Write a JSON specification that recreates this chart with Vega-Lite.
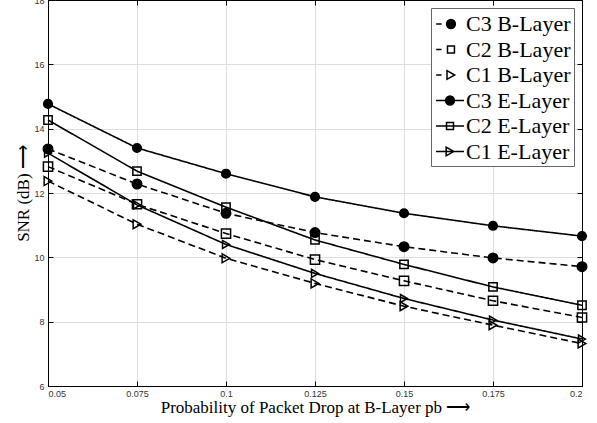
{
  "$schema": "https://vega.github.io/schema/vega-lite/v6.json",
  "autosize": {"type": "none"},
  "padding": {"left": 48, "top": 0, "right": 15, "bottom": 37},
  "width": 534,
  "height": 386,
  "background": "white",
  "config": {
    "view": {"stroke": "black", "strokeWidth": 1},
    "axis": {
      "labelFont": "Liberation Sans",
      "labelFontSize": 9,
      "labelColor": "#333",
      "titleFont": "Liberation Serif",
      "titleFontSize": 17,
      "titleFontWeight": "normal",
      "titleColor": "black",
      "domainColor": "black",
      "tickColor": "black",
      "gridColor": "#dedede",
      "gridWidth": 1
    }
  },
  "data": {
    "values": [
      {"p": 0.05, "snr": 13.37, "series": "C3 B-Layer"},
      {"p": 0.075, "snr": 12.28, "series": "C3 B-Layer"},
      {"p": 0.1, "snr": 11.37, "series": "C3 B-Layer"},
      {"p": 0.125, "snr": 10.77, "series": "C3 B-Layer"},
      {"p": 0.15, "snr": 10.33, "series": "C3 B-Layer"},
      {"p": 0.175, "snr": 9.98, "series": "C3 B-Layer"},
      {"p": 0.2, "snr": 9.71, "series": "C3 B-Layer"},
      {"p": 0.05, "snr": 12.82, "series": "C2 B-Layer"},
      {"p": 0.075, "snr": 11.65, "series": "C2 B-Layer"},
      {"p": 0.1, "snr": 10.74, "series": "C2 B-Layer"},
      {"p": 0.125, "snr": 9.93, "series": "C2 B-Layer"},
      {"p": 0.15, "snr": 9.27, "series": "C2 B-Layer"},
      {"p": 0.175, "snr": 8.65, "series": "C2 B-Layer"},
      {"p": 0.2, "snr": 8.13, "series": "C2 B-Layer"},
      {"p": 0.05, "snr": 12.37, "series": "C1 B-Layer"},
      {"p": 0.075, "snr": 11.03, "series": "C1 B-Layer"},
      {"p": 0.1, "snr": 9.97, "series": "C1 B-Layer"},
      {"p": 0.125, "snr": 9.19, "series": "C1 B-Layer"},
      {"p": 0.15, "snr": 8.48, "series": "C1 B-Layer"},
      {"p": 0.175, "snr": 7.89, "series": "C1 B-Layer"},
      {"p": 0.2, "snr": 7.32, "series": "C1 B-Layer"},
      {"p": 0.05, "snr": 14.77, "series": "C3 E-Layer"},
      {"p": 0.075, "snr": 13.4, "series": "C3 E-Layer"},
      {"p": 0.1, "snr": 12.6, "series": "C3 E-Layer"},
      {"p": 0.125, "snr": 11.88, "series": "C3 E-Layer"},
      {"p": 0.15, "snr": 11.37, "series": "C3 E-Layer"},
      {"p": 0.175, "snr": 10.98, "series": "C3 E-Layer"},
      {"p": 0.2, "snr": 10.66, "series": "C3 E-Layer"},
      {"p": 0.05, "snr": 14.27, "series": "C2 E-Layer"},
      {"p": 0.075, "snr": 12.68, "series": "C2 E-Layer"},
      {"p": 0.1, "snr": 11.56, "series": "C2 E-Layer"},
      {"p": 0.125, "snr": 10.54, "series": "C2 E-Layer"},
      {"p": 0.15, "snr": 9.78, "series": "C2 E-Layer"},
      {"p": 0.175, "snr": 9.08, "series": "C2 E-Layer"},
      {"p": 0.2, "snr": 8.51, "series": "C2 E-Layer"},
      {"p": 0.05, "snr": 13.24, "series": "C1 E-Layer"},
      {"p": 0.075, "snr": 11.63, "series": "C1 E-Layer"},
      {"p": 0.1, "snr": 10.4, "series": "C1 E-Layer"},
      {"p": 0.125, "snr": 9.5, "series": "C1 E-Layer"},
      {"p": 0.15, "snr": 8.72, "series": "C1 E-Layer"},
      {"p": 0.175, "snr": 8.05, "series": "C1 E-Layer"},
      {"p": 0.2, "snr": 7.46, "series": "C1 E-Layer"}
    ]
  },
  "layer": [
    {
      "mark": {"type": "line", "color": "black", "strokeWidth": 1.6},
      "encoding": {
        "x": {
          "field": "p", "type": "quantitative",
          "scale": {"domain": [0.05, 0.2], "nice": false, "zero": false},
          "axis": {
            "orient": "bottom",
            "values": [0.05, 0.075, 0.1, 0.125, 0.15, 0.175, 0.2],
            "format": ".3~f",
            "grid": true,
            "tickSize": -5,
            "labelPadding": 8,
            "title": "Probability of Packet Drop at B-Layer pb  ⟶",
            "titlePadding": 1
          }
        },
        "y": {
          "field": "snr", "type": "quantitative",
          "scale": {"domain": [6, 18], "nice": false, "zero": false},
          "axis": {
            "orient": "left",
            "values": [6, 8, 10, 12, 14, 16, 18],
            "grid": true,
            "tickSize": -5,
            "labelPadding": 9,
            "title": "SNR (dB)  ⟶",
            "titlePadding": 1
          }
        },
        "detail": {"field": "series"},
        "strokeDash": {
          "field": "series", "type": "nominal",
          "scale": {
            "domain": ["C3 B-Layer", "C2 B-Layer", "C1 B-Layer", "C3 E-Layer", "C2 E-Layer", "C1 E-Layer"],
            "range": [[7, 4], [7, 4], [7, 4], [1, 0], [1, 0], [1, 0]]
          },
          "legend": null
        }
      }
    },
    {
      "mark": {"type": "point", "color": "black", "filled": false, "strokeWidth": 1.5, "opacity": 1},
      "encoding": {
        "x": {
          "field": "p", "type": "quantitative",
          "axis": {"orient": "top", "values": [0.05, 0.075, 0.1, 0.125, 0.15, 0.175, 0.2], "labels": false, "grid": false, "tickSize": -5, "title": null}
        },
        "y": {
          "field": "snr", "type": "quantitative",
          "axis": {"orient": "right", "values": [6, 8, 10, 12, 14, 16, 18], "labels": false, "grid": false, "tickSize": -5, "title": null}
        },
        "shape": {
          "field": "series", "type": "nominal",
          "scale": {
            "domain": ["C3 B-Layer", "C2 B-Layer", "C1 B-Layer", "C3 E-Layer", "C2 E-Layer", "C1 E-Layer"],
            "range": ["circle", "square", "triangle-right", "circle", "square", "triangle-right"]
          },
          "legend": null
        },
        "fill": {
          "field": "series", "type": "nominal",
          "scale": {
            "domain": ["C3 B-Layer", "C2 B-Layer", "C1 B-Layer", "C3 E-Layer", "C2 E-Layer", "C1 E-Layer"],
            "range": ["black", "transparent", "transparent", "black", "transparent", "transparent"]
          },
          "legend": null
        },
        "size": {
          "field": "series", "type": "nominal",
          "scale": {
            "domain": ["C3 B-Layer", "C2 B-Layer", "C1 B-Layer", "C3 E-Layer", "C2 E-Layer", "C1 E-Layer"],
            "range": [90, 64, 130, 90, 64, 130]
          },
          "legend": null
        }
      }
    },
    {
      "mark": {"type": "point", "color": "black", "filled": false, "opacity": 0},
      "encoding": {
        "x": {"field": "p", "type": "quantitative", "axis": null},
        "y": {"field": "snr", "type": "quantitative", "axis": null},
        "shape": {
          "field": "series", "type": "nominal",
          "scale": {
            "domain": ["C3 B-Layer", "C2 B-Layer", "C1 B-Layer", "C3 E-Layer", "C2 E-Layer", "C1 E-Layer"],
            "range": [
              "M-0.9,0H-0.45M0.7,0A0.37,0.37,0,1,1,-0.04,0A0.37,0.37,0,1,1,0.7,0ZM0.59,0A0.26,0.26,0,1,1,0.07,0A0.26,0.26,0,1,1,0.59,0ZM0.48,0A0.15,0.15,0,1,1,0.18,0A0.15,0.15,0,1,1,0.48,0ZM0.38,0A0.05,0.05,0,1,1,0.28,0A0.05,0.05,0,1,1,0.38,0Z",
              "M-0.9,0H-0.45M0.04,-0.29H0.62V0.29H0.04Z",
              "M-0.9,0H-0.45M0.0,-0.36L0.64,0L0.0,0.36Z",
              "M-0.92,0H1.42M0.62,0A0.37,0.37,0,1,1,-0.12,0A0.37,0.37,0,1,1,0.62,0ZM0.51,0A0.26,0.26,0,1,1,-0.01,0A0.26,0.26,0,1,1,0.51,0ZM0.4,0A0.15,0.15,0,1,1,0.1,0A0.15,0.15,0,1,1,0.4,0ZM0.3,0A0.05,0.05,0,1,1,0.2,0A0.05,0.05,0,1,1,0.3,0Z",
              "M-0.92,0H1.42M-0.04,-0.29H0.54V0.29H-0.04Z",
              "M-0.92,0H1.42M-0.07,-0.36L0.57,0L-0.07,0.36Z"
            ]
          },
          "legend": {
            "orient": "none",
            "legendX": 383,
            "legendY": 8,
            "title": null,
            "padding": 3,
            "rowPadding": 1.5,
            "strokeColor": "#666",
            "fillColor": "white",
            "labelFont": "Liberation Serif",
            "labelFontSize": 22,
            "labelColor": "black",
            "labelOffset": 6,
            "symbolSize": 576,
            "symbolStrokeColor": "black",
            "symbolFillColor": "transparent",
            "symbolStrokeWidth": 1.5,
            "symbolOpacity": 1
          }
        }
      }
    }
  ],
  "resolve": {
    "scale": {"shape": "independent", "fill": "independent", "size": "independent", "strokeDash": "independent"},
    "axis": {"x": "independent", "y": "independent"},
    "legend": {"shape": "independent", "fill": "independent"}
  }
}
